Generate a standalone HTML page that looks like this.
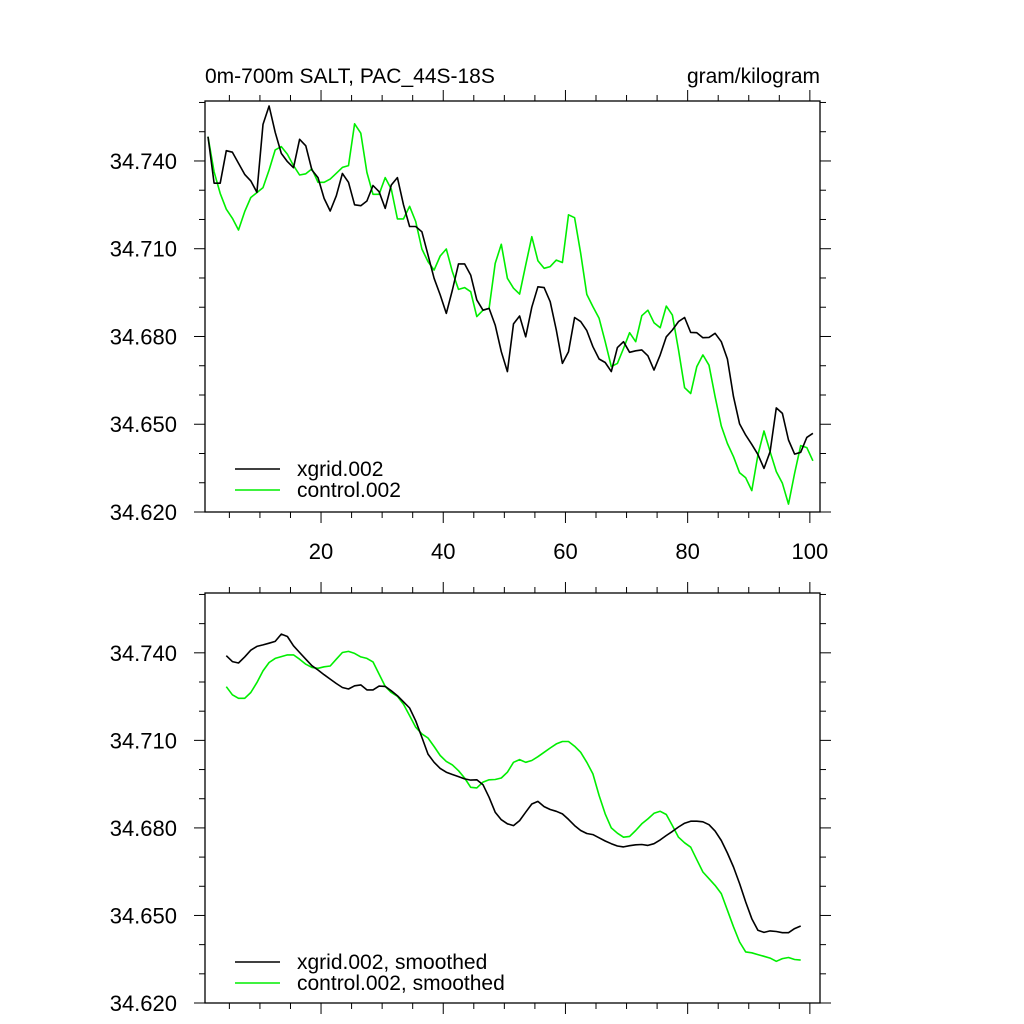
<!DOCTYPE html>
<html><head><meta charset="utf-8"><style>
html,body{margin:0;padding:0;background:#fff;}
svg{display:block;font-family:"Liberation Sans",sans-serif;}
</style></head><body>
<svg id="chart" width="1024" height="1024" viewBox="0 0 1024 1024" xmlns="http://www.w3.org/2000/svg">
<rect width="1024" height="1024" fill="#fff"/>
<text x="205" y="83" font-size="21">0m-700m SALT, PAC_44S-18S</text>
<text x="820" y="83" font-size="21" text-anchor="end">gram/kilogram</text>
</svg>
<script>
const xgridRaw = [34.7483,34.7324,34.7324,34.7435,34.7430,34.7392,34.7354,34.7332,34.7293,34.7525,34.7588,34.7498,34.7426,34.7398,34.7377,34.7474,34.7452,34.7369,34.7343,34.7272,34.7229,34.7281,34.7357,34.7327,34.7250,34.7247,34.7263,34.7316,34.7295,34.7238,34.7318,34.7343,34.7250,34.7176,34.7176,34.7158,34.7079,34.6999,34.6942,34.6879,34.6959,34.7048,34.7048,34.7010,34.6925,34.6890,34.6896,34.6839,
34.6748,34.6680,34.6843,34.6870,34.6799,34.6900,34.6970,34.6967,34.6919,34.6822,34.6708,34.6748,34.6865,34.6851,34.6820,34.6765,34.6723,34.6711,34.6680,34.6762,34.6782,34.6746,34.6751,34.6754,34.6734,34.6685,34.6737,34.6799,34.6822,34.6851,34.6865,34.6814,34.6813,34.6796,34.6797,34.6811,34.6782,34.6723,34.6594,34.6501,34.6463,34.6431,34.6397,34.6349,34.6406,34.6556,34.6537,34.6446,34.6398,34.6404,34.6455,34.6469];
const controlRaw = [34.7483,34.7363,34.7289,34.7235,34.7204,34.7164,34.7227,34.7275,34.7292,34.7309,34.7369,34.7438,34.7449,34.7423,34.7384,34.7352,34.7356,34.7373,34.7327,34.7327,34.7338,34.7358,34.7378,34.7384,34.7527,34.7495,34.7361,34.7286,34.7286,34.7343,34.7304,34.7202,34.7202,34.7245,34.7193,34.7099,34.7056,34.7027,34.7075,34.7099,34.7021,34.6961,34.6967,34.6953,34.6868,34.6890,34.6896,34.7050,
34.7115,34.6999,34.6965,34.6945,34.7044,34.7141,34.7059,34.7033,34.7039,34.7061,34.7053,34.7216,34.7206,34.7084,34.6944,34.6902,34.6862,34.6782,34.6697,34.6708,34.6759,34.6813,34.6782,34.6871,34.6890,34.6847,34.6830,34.6904,34.6873,34.6754,34.6625,34.6605,34.6697,34.6737,34.6702,34.6594,34.6494,34.6434,34.6389,34.6334,34.6317,34.6273,34.6395,34.6477,34.6406,34.6338,34.6298,34.6227,34.6332,34.6427,34.6420,34.6375];
const smoothStart = 3;
const xgridSmooth = [34.7390,34.7370,34.7365,34.7386,34.7409,34.7422,34.7427,34.7433,34.7439,34.7464,34.7456,34.7424,34.7401,34.7378,34.7356,34.7341,34.7325,34.7310,34.7295,34.7281,34.7276,34.7287,34.7290,34.7273,34.7273,34.7286,34.7285,34.7270,34.7253,34.7232,34.7211,34.7167,34.7110,34.7053,34.7025,34.7004,34.6991,34.6983,34.6976,34.6968,34.6964,34.6965,34.6948,34.6905,34.6854,
34.6828,34.6814,34.6808,34.6825,34.6854,34.6882,34.6891,34.6873,34.6863,34.6857,34.6848,34.6829,34.6808,34.6791,34.6781,34.6777,34.6766,34.6755,34.6746,34.6738,34.6735,34.6739,34.6742,34.6743,34.6740,34.6746,34.6759,34.6774,34.6788,34.6803,34.6816,34.6823,34.6823,34.6821,34.6811,34.6789,34.6757,34.6714,34.6666,34.6609,34.6546,34.6489,34.6449,34.6442,34.6447,34.6445,34.6441,34.6441,34.6455,34.6464];
const controlSmooth = [34.7284,34.7256,34.7244,34.7244,34.7264,34.7298,34.7338,34.7367,34.7381,34.7387,34.7393,34.7393,34.7378,34.7361,34.7350,34.7347,34.7352,34.7355,34.7378,34.7401,34.7405,34.7398,34.7386,34.7381,34.7369,34.7327,34.7285,34.7264,34.7251,34.7224,34.7185,34.7145,34.7122,34.7108,34.7079,34.7048,34.7028,34.7016,34.6996,34.6971,34.6939,34.6937,34.6957,34.6965,34.6966,
34.6971,34.6991,34.7025,34.7034,34.7025,34.7031,34.7044,34.7059,34.7074,34.7088,34.7096,34.7096,34.7080,34.7059,34.7025,34.6985,34.6911,34.6848,34.6800,34.6782,34.6768,34.6771,34.6791,34.6814,34.6831,34.6850,34.6857,34.6846,34.6808,34.6768,34.6749,34.6734,34.6691,34.6649,34.6626,34.6603,34.6575,34.6518,34.6461,34.6409,34.6375,34.6372,34.6366,34.6360,34.6354,34.6343,34.6352,34.6356,34.6349,34.6347];
const yTickLabels = ["34.620","34.650","34.680","34.710","34.740"];
const yTickValues = [34.62,34.65,34.68,34.71,34.74];
const xTickValues = [20,40,60,80,100];
const legendTop = ["xgrid.002","control.002"];
const legendBottom = ["xgrid.002, smoothed","control.002, smoothed"];

const NS="http://www.w3.org/2000/svg";
const svg=document.getElementById('chart');
function mk(tag,attrs,parent){const e=document.createElementNS(NS,tag);for(const k in attrs)e.setAttribute(k,attrs[k]);(parent||svg).appendChild(e);return e;}
const L=205,R=820,XMIN=1.01,XMAX=101.66,YMIN=34.62,YMAX=34.7605;
function xS(v){return L+(v-XMIN)/(XMAX-XMIN)*(R-L);}
function makePanel(top,bottom,showXLabels,s1,s2,start,legend,legY,name){
  const yS=v=>bottom-(v-YMIN)/(YMAX-YMIN)*(bottom-top);
  const g=mk('g',{});
  
  
  const fr=mk('rect',{x:L,y:top,width:R-L,height:bottom-top,fill:'none',stroke:'#000','stroke-width':1.3},g);
  
  
  for(let v=5;v<=100;v+=5){
    const x=xS(v),maj=v%20===0,len=maj?11:6;
    mk('line',{x1:x,x2:x,y1:bottom,y2:bottom+len,stroke:'#000','stroke-width':1},g);
    mk('line',{x1:x,x2:x,y1:top,y2:top-len,stroke:'#000','stroke-width':1},g);
  }
  if(showXLabels){xTickValues.forEach(v=>{
    const t=mk('text',{x:xS(v),y:bottom+47,'font-size':22,'text-anchor':'middle'},g);t.textContent=String(v);
    
    
  });}
  for(let k=0;k<=14;k++){
    const v=34.62+k*0.01;if(v>YMAX+1e-6)break;
    const y=yS(v),maj=k%3===0,len=maj?11:6;
    mk('line',{x1:L,x2:L-len,y1:y,y2:y,stroke:'#000','stroke-width':1},g);
    mk('line',{x1:R,x2:R+len,y1:y,y2:y,stroke:'#000','stroke-width':1},g);
  }
  yTickValues.forEach((v,i)=>{
    const t=mk('text',{x:177,y:yS(v)+8,'font-size':22,'text-anchor':'end'},g);t.textContent=yTickLabels[i];
    
    
  });
  [[s2,'#00ee00','control-line'],[s1,'#000','xgrid-line']].forEach(([s,c,n])=>{
    const pts=s.map((v,i)=>xS(start+i+1.5).toFixed(1)+','+yS(v).toFixed(1)).join(' ');
    const p=mk('polyline',{points:pts,fill:'none',stroke:c,'stroke-width':1.6,'stroke-linejoin':'round'},g);
    
    
  });
  [['#000',legend[0]],['#00ee00',legend[1]]].forEach(([c,txt],i)=>{
    const y=legY+i*21;
    const ln=mk('line',{x1:235,x2:280,y1:y,y2:y,stroke:c,'stroke-width':1.6},g);
    
    
    const t=mk('text',{x:297,y:y+7,'font-size':21},g);t.textContent=txt;
    
    
  });
}
makePanel(101,512,true,xgridRaw,controlRaw,0,legendTop,469,'top-panel');
makePanel(593,1003,false,xgridSmooth,controlSmooth,smoothStart,legendBottom,962,'bottom-panel');
</script>
</body></html>
